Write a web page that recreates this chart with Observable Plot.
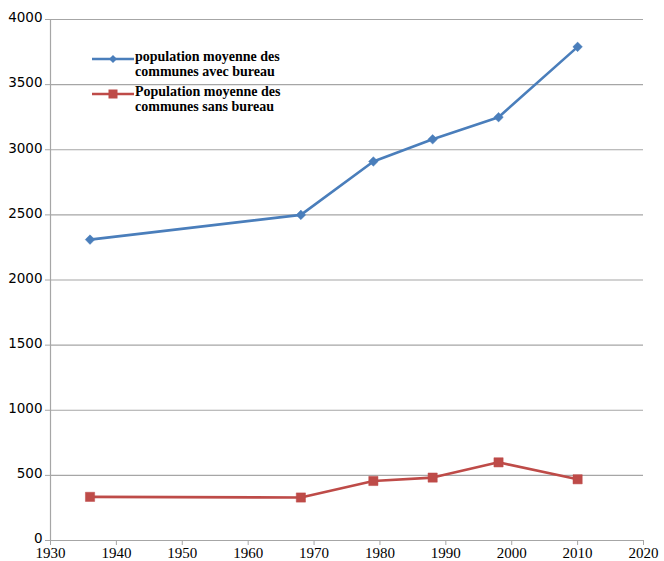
<!DOCTYPE html>
<html>
<head>
<meta charset="utf-8">
<script src="https://cdn.jsdelivr.net/npm/d3@7"></script>
<script src="https://cdn.jsdelivr.net/npm/@observablehq/plot@0.6"></script>
<style>
  body { margin: 0; background: #fff; }
  #wrap { position: relative; width: 664px; height: 561px; }
  #legend { position: absolute; left: 92px; top: 50px; font-family: "Liberation Serif", "Times New Roman", serif; font-weight: bold; font-size: 14px; line-height: 14.5px; color: #000; }
  .item { display: flex; align-items: flex-start; margin-bottom: 6px; }
  .item svg { margin-top: 1px; margin-right: 1px; flex: none; }
</style>
</head>
<body>
<div id="wrap">
  <div id="chart"></div>
  <div id="legend"></div>
</div>
<script>
const years = [1936, 1968, 1979, 1988, 1998, 2010];
const avecBureau = [2310, 2500, 2910, 3080, 3250, 3790];
const sansBureau = [335, 330, 457, 483, 600, 470];
const seriesNames = ["population moyenne des communes avec bureau", "Population moyenne des communes sans bureau"];
const seriesLabels = [["population moyenne des", "communes avec bureau"], ["Population moyenne des", "communes sans bureau"]];
const colors = ["#4a7ebb", "#be4b48"];
const xTicks = [1930, 1940, 1950, 1960, 1970, 1980, 1990, 2000, 2010, 2020];
const yTicks = [0, 500, 1000, 1500, 2000, 2500, 3000, 3500, 4000];

const data = [];
years.forEach((y, i) => {
  data.push({year: y, value: avecBureau[i], series: seriesNames[0]});
  data.push({year: y, value: sansBureau[i], series: seriesNames[1]});
});
const blue = data.filter(d => d.series === seriesNames[0]);
const red = data.filter(d => d.series === seriesNames[1]);

const chart = Plot.plot({
  width: 664,
  height: 561,
  marginLeft: 50,
  marginRight: 21,
  marginTop: 19,
  marginBottom: 21,
  style: {background: "#fff", color: "#000"},
  x: {domain: [1930, 2020], label: null},
  y: {domain: [0, 4000], label: null},
  marks: [
    Plot.ruleY(yTicks.filter(d => d > 0), {stroke: "#a6a6a6", strokeWidth: 1.2}),
    Plot.ruleX([1930], {stroke: "#a6a6a6", strokeWidth: 1.2}),
    Plot.ruleY([0], {stroke: "#a6a6a6", strokeWidth: 1.2}),
    Plot.axisY({ticks: yTicks, tickSize: 5, stroke: "#a6a6a6", label: null, tickFormat: () => ""}),
    Plot.axisY({ticks: yTicks, tickSize: 0, tickPadding: 8, label: null, dy: -1.5, fontFamily: "DejaVu Sans, sans-serif", fontSize: 13.5, tickFormat: d => String(d)}),
    Plot.axisX({ticks: xTicks, tickSize: 5, tickPadding: 2, stroke: "#a6a6a6", label: null, fontFamily: "Liberation Serif, Times New Roman, serif", fontSize: 15, tickFormat: d => String(d)}),
    Plot.line(blue, {x: "year", y: "value", stroke: colors[0], strokeWidth: 2.6}),
    Plot.dot(blue, {x: "year", y: "value", symbol: "diamond2", r: 4.3, fill: colors[0], stroke: colors[0], strokeWidth: 0.5}),
    Plot.line(red, {x: "year", y: "value", stroke: colors[1], strokeWidth: 2.6}),
    Plot.dot(red, {x: "year", y: "value", symbol: "square", r: 5.2, fill: colors[1], stroke: colors[1], strokeWidth: 0.5})
  ]
});
document.getElementById("chart").appendChild(chart);

// legend
const legend = document.getElementById("legend");
seriesLabels.forEach((lines, i) => {
  const item = document.createElement("div");
  item.className = "item";
  const sym = i === 0
    ? `<path d="M21,4 L25,8 L21,12 L17,8 Z" fill="${colors[i]}"/>`
    : `<rect x="16.5" y="3.5" width="9" height="9" fill="${colors[i]}"/>`;
  item.innerHTML = `<svg width="42" height="16"><line x1="0" x2="42" y1="8" y2="8" stroke="${colors[i]}" stroke-width="2.6"/>${sym}</svg><div>${lines.join("<br>")}</div>`;
  legend.appendChild(item);
});
</script>
</body>
</html>
